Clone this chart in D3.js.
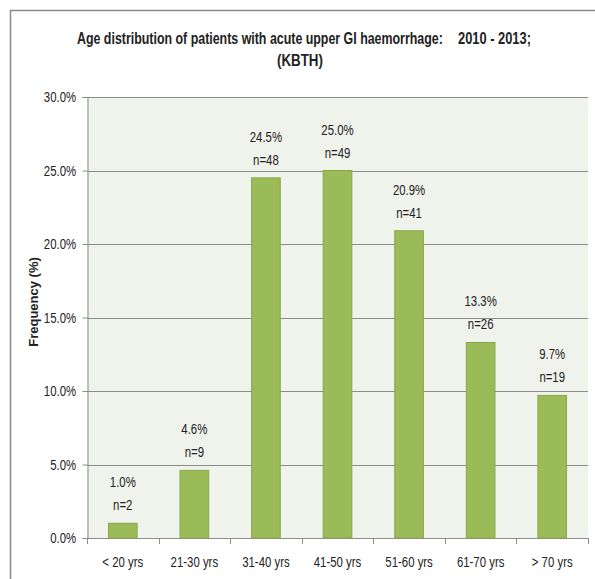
<!DOCTYPE html>
<html>
<head>
<meta charset="utf-8">
<script src="https://cdn.jsdelivr.net/npm/d3@7.9.0/dist/d3.min.js"></script>
<style>
  body { margin: 0; background: #fff; }
  svg text { font-family: "Liberation Sans", Arial, sans-serif; fill: #222; }
</style>
</head>
<body>
<svg id="chart" width="595" height="579"></svg>
<script>
const categories = ["< 20 yrs", "21-30 yrs", "31-40 yrs", "41-50 yrs", "51-60 yrs", "61-70 yrs", "> 70 yrs"];
const percents = [1.0, 4.6, 24.5, 25.0, 20.9, 13.3, 9.7];
const counts = [2, 9, 48, 49, 41, 26, 19];
const yTicks = [0, 5, 10, 15, 20, 25, 30];

const svg = d3.select("#chart");
const margin = { left: 87, right: 7, top: 97, bottom: 41 };
const W = 595, H = 579;
const narrow = 0.76; // squeeze to mimic the narrow original font
const fs = 15;

// small helper for horizontally condensed text
function label(g, x, y, str, size, anchor) {
  return g.append("text")
    .attr("transform", `translate(${x},${y}) scale(${narrow},1)`)
    .attr("text-anchor", anchor || "middle")
    .attr("font-size", size)
    .text(str);
}

// title text squeezed to a given width
function fitText(g, x, y, str, width) {
  const t = g.append("text")
    .attr("font-size", 17).attr("font-weight", "bold")
    .text(str);
  const w = t.node().getComputedTextLength();
  t.attr("transform", `translate(${x},${y}) scale(${width / w},1)`);
  return t;
}

// outer frame (runs off the right and bottom edges)
svg.append("rect")
  .attr("x", 10.5).attr("y", 10.5)
  .attr("width", 600).attr("height", 600)
  .attr("fill", "none").attr("stroke", "#8a8a8a").attr("stroke-width", 1.5);

const x = d3.scaleBand()
  .domain(categories)
  .range([margin.left, W - margin.right])
  .paddingInner(0.6).paddingOuter(0.3);

const y = d3.scaleLinear()
  .domain([0, 30])
  .range([H - margin.bottom, margin.top]);

// plot background
svg.append("rect")
  .attr("x", margin.left).attr("y", margin.top)
  .attr("width", W - margin.right - margin.left)
  .attr("height", H - margin.bottom - margin.top)
  .attr("fill", "#f0f2ec");

// gridlines
svg.append("g")
  .selectAll("line")
  .data(yTicks.filter(d => d > 0))
  .enter()
  .append("line")
  .attr("x1", margin.left).attr("x2", W - margin.right)
  .attr("y1", d => Math.round(y(d)) + 0.5).attr("y2", d => Math.round(y(d)) + 0.5)
  .attr("stroke", "#8c8c8c").attr("stroke-width", 1);

// y axis
const yAxis = svg.append("g")
  .attr("transform", `translate(${margin.left + 0.5},0)`)
  .call(d3.axisLeft(y).tickValues(yTicks).tickSize(5).tickPadding(10)
    .tickFormat(d => d.toFixed(1) + "%"));
yAxis.select(".domain").attr("stroke", "#8c8c8c");
yAxis.selectAll(".tick line").attr("stroke", "#8c8c8c");
yAxis.selectAll("text")
  .attr("font-size", fs)
  .attr("font-family", null)
  .attr("transform", `scale(${narrow},1)`)
  .style("fill", "#222");

// x axis with ticks at band boundaries
const bounds = categories.map(c => x(c) - x.step() * x.paddingInner() / 2);
bounds.push(W - margin.right);
const xg = svg.append("g");
xg.append("line")
  .attr("x1", margin.left).attr("x2", W - margin.right)
  .attr("y1", y(0) + 0.5).attr("y2", y(0) + 0.5)
  .attr("stroke", "#8c8c8c");
xg.selectAll("line.tk")
  .data(bounds)
  .enter()
  .append("line")
  .attr("class", "tk")
  .attr("x1", d => Math.round(d) + 0.5).attr("x2", d => Math.round(d) + 0.5)
  .attr("y1", y(0)).attr("y2", y(0) + 6)
  .attr("stroke", "#8c8c8c");
categories.forEach(c => {
  label(xg, x(c) + x.bandwidth() / 2, y(0) + 29, c, fs);
});

// bars
svg.append("g")
  .selectAll("rect")
  .data(percents)
  .enter()
  .append("rect")
  .attr("x", (d, i) => x(categories[i]))
  .attr("y", d => y(d))
  .attr("width", x.bandwidth())
  .attr("height", d => y(0) - y(d))
  .attr("fill", "#9bbb59")
  .attr("stroke", "#86a84a").attr("stroke-width", 1);

// bar labels
const lab = svg.append("g");
percents.forEach((d, i) => {
  const cx = x(categories[i]) + x.bandwidth() / 2;
  label(lab, cx, y(d) - 36, d.toFixed(1) + "%", fs);
  label(lab, cx, y(d) - 13, "n=" + counts[i], fs);
});

// title
const tg = svg.append("g");
fitText(tg, 77, 44, "Age distribution of patients with acute upper GI haemorrhage:", 366);
fitText(tg, 458, 44, "2010 - 2013;", 73);
fitText(tg, 277, 66, "(KBTH)", 46);

// y axis title
svg.append("text")
  .attr("transform", `translate(38,302) rotate(-90)`)
  .attr("text-anchor", "middle")
  .attr("font-size", 13).attr("font-weight", "bold")
  .text("Frequency (%)");
</script>
</body>
</html>
